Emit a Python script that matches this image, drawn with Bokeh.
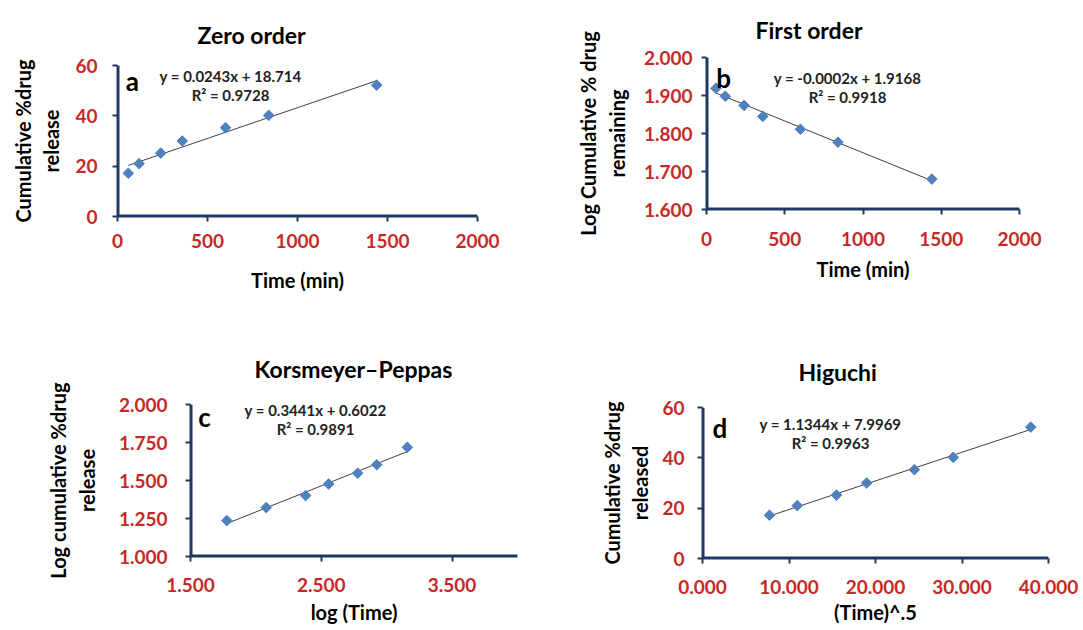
import numpy as np
from bokeh.plotting import figure
from bokeh.layouts import column, row
from bokeh.models import Label, FixedTicker, Range1d
from bokeh.embed import file_html
from bokeh.resources import INLINE

# ---------------- data ----------------
time_min = [60, 120, 240, 360, 600, 840, 1440]
cum_release = [17.2, 21.0, 25.2, 30.0, 35.3, 40.2, 52.2]
log_remaining = [1.919, 1.898, 1.874, 1.845, 1.811, 1.777, 1.680]
log_time = [1.778, 2.079, 2.380, 2.556, 2.778, 2.924, 3.158]
log_release = [1.236, 1.322, 1.401, 1.477, 1.548, 1.604, 1.718]
sqrt_time = [7.746, 10.954, 15.492, 18.974, 24.495, 28.983, 37.947]

titles = ["Zero order", "First order", "Korsmeyer\u2013Peppas", "Higuchi"]
letters = ["a", "b", "c", "d"]
equations = ["y = 0.0243x + 18.714", "y = -0.0002x + 1.9168",
             "y = 0.3441x + 0.6022", "y = 1.1344x + 7.9969"]
r2_texts = ["R\u00b2 = 0.9728", "R\u00b2 = 0.9918", "R\u00b2 = 0.9891", "R\u00b2 = 0.9963"]
x_titles = ["Time (min)", "Time (min)", "log (Time)", "(Time)^.5"]
y_titles = ["Cumulative %drug\nrelease", "Log Cumulative % drug\nremaining",
            "Log cumulative %drug\nrelease", "Cumulative %drug\nreleased"]

xticks_a = [0, 500, 1000, 1500, 2000]
xlabels_a = ["0", "500", "1000", "1500", "2000"]
yticks_a = [0, 20, 40, 60]
ylabels_a = ["0", "20", "40", "60"]
yticks_b = [1.6, 1.7, 1.8, 1.9, 2.0]
ylabels_b = ["1.600", "1.700", "1.800", "1.900", "2.000"]
xticks_c = [1.5, 2.5, 3.5]
xlabels_c = ["1.500", "2.500", "3.500"]
yticks_c = [1.0, 1.25, 1.5, 1.75, 2.0]
ylabels_c = ["1.000", "1.250", "1.500", "1.750", "2.000"]
xticks_d = [0, 10, 20, 30, 40]
xlabels_d = ["0.000", "10.000", "20.000", "30.000", "40.000"]

FONT = "Lato"
AXIS_COL = "#1F3864"
TICK_COL = "#C62828"
MARK_COL = "#4F81BD"


def make_panel(i, xs, ys, xr, yr, xt, xl, yt, yl, w, h, bl, br, bt, bb,
               title_offset, title_standoff, ytick_so, xtick_so,
               xlab_so, ylab_so, letter_xy, eq_xy, r2_xy):
    p = figure(width=w, height=h, output_backend="svg", toolbar_location=None,
               x_range=Range1d(*xr), y_range=Range1d(*yr),
               min_border_left=bl, min_border_right=br,
               min_border_top=bt, min_border_bottom=bb,
               background_fill_color="white", border_fill_color="white")
    p.outline_line_color = None
    p.xgrid.visible = False
    p.ygrid.visible = False
    p.title.text = titles[i]
    p.title.align = "left"
    p.title.offset = title_offset
    p.title.text_font = FONT
    p.title.text_font_style = "bold"
    p.title.text_font_size = "23px"
    p.title.text_color = "black"
    p.title.standoff = title_standoff
    for ax, ticks, labels, ttl in ((p.xaxis[0], xt, xl, x_titles[i]),
                                   (p.yaxis[0], yt, yl, y_titles[i])):
        ax.ticker = FixedTicker(ticks=ticks, minor_ticks=[])
        ax.major_label_overrides = {t: s for t, s in zip(ticks, labels)}
        ax.axis_line_color = AXIS_COL
        ax.axis_line_width = 2
        ax.major_tick_line_color = AXIS_COL
        ax.major_tick_line_width = 2
        ax.major_tick_out = 5
        ax.major_tick_in = 0
        ax.major_label_text_color = TICK_COL
        ax.major_label_text_font = FONT
        ax.major_label_text_font_style = "bold"
        ax.major_label_text_font_size = "19px"
        ax.axis_label = ttl
        ax.axis_label_text_font = FONT
        ax.axis_label_text_font_style = "bold"
        ax.axis_label_text_font_size = "20px"
        ax.axis_label_text_color = "black"
    p.yaxis[0].major_label_orientation = "horizontal"
    p.yaxis[0].major_label_standoff = ytick_so
    p.xaxis[0].major_label_standoff = xtick_so
    p.xaxis[0].axis_label_standoff = xlab_so
    p.yaxis[0].axis_label_standoff = ylab_so

    # 2-px axis rules along the frame's left and bottom edges (filled, so they
    # always show even if the axis strokes are not painted)
    fw = w - bl - br
    fh = h - bt - bb
    dx = 2.0 * (xr[1] - xr[0]) / fw
    dy = 2.0 * (yr[1] - yr[0]) / fh
    p.quad(left=[xr[0], xr[0]], right=[xr[0] + dx, xr[1]],
           bottom=[yr[0], yr[0]], top=[yr[1], yr[0] + dy],
           fill_color=AXIS_COL, line_color=None)

    coef = np.polyfit(xs, ys, 1)
    lx = [xs[0], xs[-1]]
    p.line(lx, list(np.polyval(coef, lx)), line_color="#404040", line_width=1)
    p.scatter(xs, ys, marker="square", angle=np.pi / 4, size=7.5,
              fill_color=MARK_COL, line_color=MARK_COL)

    p.add_layout(Label(x=letter_xy[0], y=letter_xy[1], text=letters[i],
                       text_font=FONT, text_font_style="bold", text_font_size="26px",
                       text_align="center", text_baseline="alphabetic", text_color="black"))
    for txt, (tx, ty) in ((equations[i], eq_xy), (r2_texts[i], r2_xy)):
        p.add_layout(Label(x=tx, y=ty, text=txt, text_font=FONT,
                           text_font_style="bold", text_font_size="15px",
                           text_align="center", text_baseline="middle",
                           text_color="#222222"))
    return p


pa = make_panel(0, time_min, cum_release, (0, 2000), (0, 60),
                xticks_a, xlabels_a, yticks_a, ylabels_a,
                540, 310, 117, 63, 65, 94,
                80, 34, 15, 12, 17, 9,
                (83, 54.0), (628, 56.0), (628, 48.1))
pb = make_panel(1, time_min, log_remaining, (0, 2000), (1.6, 2.0),
                xticks_a, xlabels_a, yticks_b, ylabels_b,
                543, 310, 166, 64, 57, 101,
                49, 27, 9, 17, 8, 12,
                (109, 1.947), (901, 1.947), (901, 1.895))
pc = make_panel(2, log_time, log_release, (1.5, 4.0), (1.0, 2.0),
                xticks_c, xlabels_c, yticks_c, ylabels_c,
                560, 320, 190, 43, 94, 74,
                64, 43, 18, 16, 5, 17,
                (1.607, 1.921), (2.456, 1.967), (2.456, 1.842))
pd = make_panel(3, sqrt_time, cum_release, (0, 40), (0, 60),
                xticks_d, xlabels_d, yticks_a, ylabels_a,
                523, 320, 142, 35, 97, 72,
                96, 43, 13, 16, 3, 7,
                (2.02, 52.05), (14.8, 53.6), (14.8, 45.7))

layout = column(row(column(pa), column(pb)), row(column(pc), column(pd)))
open("out.html", "w").write(file_html(layout, INLINE))
